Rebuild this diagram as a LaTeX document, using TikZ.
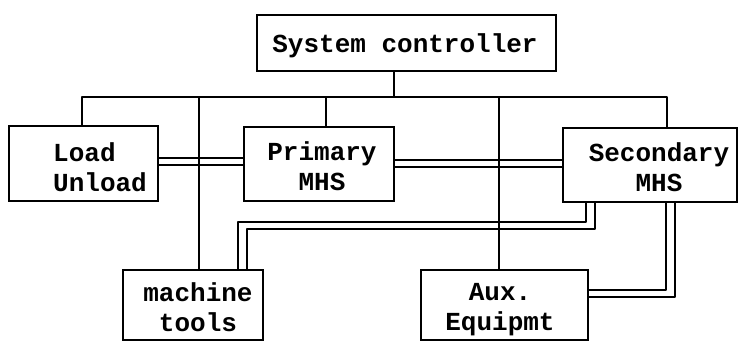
\documentclass[tikz,border=0pt]{standalone}
\usepackage{fontspec}
\setmonofont{Liberation Mono}
\begin{document}
\begin{tikzpicture}[x=1pt,y=-1pt,
  box/.style={draw, line width=1.5pt, inner sep=0pt},
  lbl/.style={font=\ttfamily\bfseries\fontsize{26}{30}\selectfont, align=center, inner sep=0pt, text depth=0pt},
  wire/.style={line width=1.5pt, line join=round}]
\useasboundingbox (0,0) rectangle (749,342);
% boxes
\node[box, minimum width=299pt, minimum height=56pt] (sc) at (406.5,43) {};
\node[box, minimum width=149pt, minimum height=75pt] (lu) at (83.5,163.5) {};
\node[box, minimum width=150pt, minimum height=74pt] (pm) at (319,164) {};
\node[box, minimum width=174pt, minimum height=74pt] (sm) at (650,165) {};
\node[box, minimum width=140pt, minimum height=70pt] (mt) at (193,305) {};
\node[box, minimum width=167pt, minimum height=70pt] (ae) at (504.5,305) {};
% texts
\node[lbl] (tsc) at (405,43) {System controller};
\node[lbl, align=left, anchor=west] (tlu) at (53,167.5) {Load\\Unload};
\node[lbl] (tpm) at (322,166) {Primary\\MHS};
\node[lbl] (tsm) at (659,167) {Secondary\\MHS};
\node[lbl] (tmt) at (198,307) {machine\\tools};
\node[lbl] (tae) at (500,307) {Aux.\\Equipmt};
% bus coordinates
\coordinate (bl) at (82,97);
\coordinate (br) at (667,97);
\coordinate (c1) at (394,97);
\coordinate (c2) at (199,97);
\coordinate (c3) at (326,97);
\coordinate (c4) at (499,97);
\draw[wire] (bl |- lu.north) -- (bl) -- (br) -- (br |- sm.north);
\draw[wire] (c1 |- sc.south) -- (c1);
\draw[wire] (c2) -- (c2 |- mt.north);
\draw[wire] (c3) -- (c3 |- pm.north);
\draw[wire] (c4) -- (c4 |- ae.north);
% double links
\coordinate (d1) at (0,158);
\coordinate (d2) at (0,165);
\coordinate (d3) at (0,160);
\coordinate (d4) at (0,167);
\draw[wire] (lu.east |- d1) -- (pm.west |- d1);
\draw[wire] (lu.east |- d2) -- (pm.west |- d2);
\draw[wire] (pm.east |- d3) -- (sm.west |- d3);
\draw[wire] (pm.east |- d4) -- (sm.west |- d4);
% secondary to machine tools
\coordinate (m1) at (586,222);
\coordinate (m2) at (238,222);
\coordinate (n1) at (595,229);
\coordinate (n2) at (247,229);
\draw[wire] (m1 |- sm.south) -- (m1) -- (m2) -- (m2 |- mt.north);
\draw[wire] (n1 |- sm.south) -- (n1) -- (n2) -- (n2 |- mt.north);
% secondary to aux
\coordinate (a1) at (666,290);
\coordinate (a2) at (675,297);
\draw[wire] (a1 |- sm.south) -- (a1) -- (ae.east |- a1);
\draw[wire] (a2 |- sm.south) -- (a2) -- (ae.east |- a2);
\end{tikzpicture}
\end{document}
